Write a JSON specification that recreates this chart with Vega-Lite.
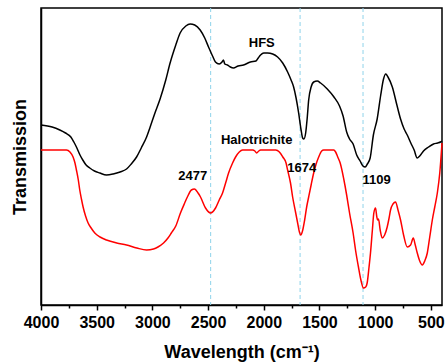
{
  "$schema": "https://vega.github.io/schema/vega-lite/v6.json",
  "width": 401,
  "height": 297,
  "autosize": "none",
  "padding": {"left": 41, "top": 8, "right": 5, "bottom": 59},
  "background": "white",
  "config": {
    "view": {"stroke": "black", "strokeWidth": 1.5},
    "font": "Liberation Sans",
    "axis": {"grid": false, "domainColor": "black", "tickColor": "black", "labelColor": "black", "titleColor": "black"}
  },
  "datasets": {
    "spectra": [
      {"wn": 4000, "t": 180, "s": "HFS"}, {"wn": 3900, "t": 178, "s": "HFS"}, {"wn": 3831, "t": 175, "s": "HFS"}, {"wn": 3780, "t": 172, "s": "HFS"}, {"wn": 3732, "t": 168, "s": "HFS"}, {"wn": 3705, "t": 163, "s": "HFS"}, {"wn": 3682, "t": 158, "s": "HFS"}, {"wn": 3650, "t": 150, "s": "HFS"}, {"wn": 3625, "t": 145, "s": "HFS"}, {"wn": 3595, "t": 140, "s": "HFS"}, {"wn": 3562, "t": 137, "s": "HFS"}, {"wn": 3520, "t": 134, "s": "HFS"}, {"wn": 3472, "t": 132, "s": "HFS"}, {"wn": 3412, "t": 130, "s": "HFS"}, {"wn": 3352, "t": 131, "s": "HFS"}, {"wn": 3290, "t": 133, "s": "HFS"}, {"wn": 3232, "t": 136, "s": "HFS"}, {"wn": 3190, "t": 141, "s": "HFS"}, {"wn": 3142, "t": 148, "s": "HFS"}, {"wn": 3100, "t": 157, "s": "HFS"}, {"wn": 3052, "t": 168, "s": "HFS"}, {"wn": 3020, "t": 178, "s": "HFS"}, {"wn": 2977, "t": 192, "s": "HFS"}, {"wn": 2931, "t": 206, "s": "HFS"}, {"wn": 2880, "t": 225, "s": "HFS"}, {"wn": 2841, "t": 242, "s": "HFS"}, {"wn": 2790, "t": 260, "s": "HFS"}, {"wn": 2751, "t": 272, "s": "HFS"}, {"wn": 2700, "t": 279, "s": "HFS"}, {"wn": 2661, "t": 281, "s": "HFS"}, {"wn": 2620, "t": 280, "s": "HFS"}, {"wn": 2571, "t": 275, "s": "HFS"}, {"wn": 2530, "t": 267, "s": "HFS"}, {"wn": 2496, "t": 258, "s": "HFS"}, {"wn": 2460, "t": 249, "s": "HFS"}, {"wn": 2434, "t": 243, "s": "HFS"}, {"wn": 2400, "t": 241, "s": "HFS"}, {"wn": 2375, "t": 243, "s": "HFS"}, {"wn": 2362, "t": 245, "s": "HFS"}, {"wn": 2350, "t": 241, "s": "HFS"}, {"wn": 2326, "t": 240, "s": "HFS"}, {"wn": 2300, "t": 238, "s": "HFS"}, {"wn": 2272, "t": 237, "s": "HFS"}, {"wn": 2230, "t": 239, "s": "HFS"}, {"wn": 2182, "t": 240, "s": "HFS"}, {"wn": 2120, "t": 243, "s": "HFS"}, {"wn": 2070, "t": 244, "s": "HFS"}, {"wn": 2050, "t": 247, "s": "HFS"}, {"wn": 2029, "t": 250, "s": "HFS"}, {"wn": 2000, "t": 252, "s": "HFS"}, {"wn": 1966, "t": 252, "s": "HFS"}, {"wn": 1920, "t": 251, "s": "HFS"}, {"wn": 1876, "t": 248, "s": "HFS"}, {"wn": 1830, "t": 242, "s": "HFS"}, {"wn": 1786, "t": 233, "s": "HFS"}, {"wn": 1755, "t": 225, "s": "HFS"}, {"wn": 1732, "t": 218, "s": "HFS"}, {"wn": 1710, "t": 207, "s": "HFS"}, {"wn": 1687, "t": 192, "s": "HFS"}, {"wn": 1665, "t": 175, "s": "HFS"}, {"wn": 1651, "t": 167, "s": "HFS"}, {"wn": 1640, "t": 166, "s": "HFS"}, {"wn": 1624, "t": 172, "s": "HFS"}, {"wn": 1610, "t": 187, "s": "HFS"}, {"wn": 1597, "t": 205, "s": "HFS"}, {"wn": 1575, "t": 218, "s": "HFS"}, {"wn": 1552, "t": 223, "s": "HFS"}, {"wn": 1520, "t": 224, "s": "HFS"}, {"wn": 1490, "t": 222, "s": "HFS"}, {"wn": 1430, "t": 216, "s": "HFS"}, {"wn": 1370, "t": 208, "s": "HFS"}, {"wn": 1320, "t": 199, "s": "HFS"}, {"wn": 1288, "t": 189, "s": "HFS"}, {"wn": 1256, "t": 173, "s": "HFS"}, {"wn": 1230, "t": 166, "s": "HFS"}, {"wn": 1198, "t": 161, "s": "HFS"}, {"wn": 1166, "t": 150, "s": "HFS"}, {"wn": 1135, "t": 144, "s": "HFS"}, {"wn": 1110, "t": 139, "s": "HFS"}, {"wn": 1090, "t": 138, "s": "HFS"}, {"wn": 1070, "t": 141, "s": "HFS"}, {"wn": 1045, "t": 147, "s": "HFS"}, {"wn": 1016, "t": 170, "s": "HFS"}, {"wn": 982, "t": 186, "s": "HFS"}, {"wn": 950, "t": 210, "s": "HFS"}, {"wn": 925, "t": 226, "s": "HFS"}, {"wn": 905, "t": 231, "s": "HFS"}, {"wn": 885, "t": 228, "s": "HFS"}, {"wn": 846, "t": 218, "s": "HFS"}, {"wn": 805, "t": 200, "s": "HFS"}, {"wn": 772, "t": 186, "s": "HFS"}, {"wn": 740, "t": 176, "s": "HFS"}, {"wn": 712, "t": 170, "s": "HFS"}, {"wn": 680, "t": 162, "s": "HFS"}, {"wn": 650, "t": 155, "s": "HFS"}, {"wn": 623, "t": 147, "s": "HFS"}, {"wn": 600, "t": 149, "s": "HFS"}, {"wn": 566, "t": 154, "s": "HFS"}, {"wn": 520, "t": 158, "s": "HFS"}, {"wn": 476, "t": 161, "s": "HFS"}, {"wn": 440, "t": 162, "s": "HFS"}, {"wn": 413, "t": 163, "s": "HFS"}, {"wn": 400, "t": 164, "s": "HFS"},
      {"wn": 4000, "t": 155, "s": "Halotrichite"}, {"wn": 3772, "t": 155, "s": "Halotrichite"}, {"wn": 3740, "t": 153, "s": "Halotrichite"}, {"wn": 3712, "t": 148, "s": "Halotrichite"}, {"wn": 3695, "t": 142, "s": "Halotrichite"}, {"wn": 3682, "t": 135, "s": "Halotrichite"}, {"wn": 3665, "t": 125, "s": "Halotrichite"}, {"wn": 3652, "t": 115, "s": "Halotrichite"}, {"wn": 3637, "t": 106, "s": "Halotrichite"}, {"wn": 3622, "t": 98, "s": "Halotrichite"}, {"wn": 3600, "t": 89, "s": "Halotrichite"}, {"wn": 3577, "t": 82, "s": "Halotrichite"}, {"wn": 3550, "t": 77, "s": "Halotrichite"}, {"wn": 3517, "t": 72, "s": "Halotrichite"}, {"wn": 3470, "t": 68, "s": "Halotrichite"}, {"wn": 3412, "t": 65, "s": "Halotrichite"}, {"wn": 3320, "t": 62, "s": "Halotrichite"}, {"wn": 3232, "t": 60, "s": "Halotrichite"}, {"wn": 3140, "t": 57, "s": "Halotrichite"}, {"wn": 3052, "t": 55, "s": "Halotrichite"}, {"wn": 2990, "t": 56, "s": "Halotrichite"}, {"wn": 2950, "t": 58, "s": "Halotrichite"}, {"wn": 2900, "t": 62, "s": "Halotrichite"}, {"wn": 2860, "t": 67, "s": "Halotrichite"}, {"wn": 2830, "t": 72, "s": "Halotrichite"}, {"wn": 2790, "t": 79, "s": "Halotrichite"}, {"wn": 2748, "t": 92, "s": "Halotrichite"}, {"wn": 2710, "t": 102, "s": "Halotrichite"}, {"wn": 2686, "t": 108, "s": "Halotrichite"}, {"wn": 2650, "t": 115, "s": "Halotrichite"}, {"wn": 2622, "t": 116, "s": "Halotrichite"}, {"wn": 2590, "t": 112, "s": "Halotrichite"}, {"wn": 2568, "t": 108, "s": "Halotrichite"}, {"wn": 2523, "t": 97, "s": "Halotrichite"}, {"wn": 2478, "t": 92, "s": "Halotrichite"}, {"wn": 2433, "t": 97, "s": "Halotrichite"}, {"wn": 2400, "t": 105, "s": "Halotrichite"}, {"wn": 2370, "t": 112, "s": "Halotrichite"}, {"wn": 2340, "t": 123, "s": "Halotrichite"}, {"wn": 2316, "t": 132, "s": "Halotrichite"}, {"wn": 2280, "t": 142, "s": "Halotrichite"}, {"wn": 2253, "t": 148, "s": "Halotrichite"}, {"wn": 2220, "t": 153, "s": "Halotrichite"}, {"wn": 2190, "t": 155, "s": "Halotrichite"}, {"wn": 2100, "t": 155, "s": "Halotrichite"}, {"wn": 2080, "t": 154, "s": "Halotrichite"}, {"wn": 2064, "t": 152, "s": "Halotrichite"}, {"wn": 2045, "t": 154, "s": "Halotrichite"}, {"wn": 2029, "t": 155, "s": "Halotrichite"}, {"wn": 1893, "t": 155, "s": "Halotrichite"}, {"wn": 1860, "t": 153, "s": "Halotrichite"}, {"wn": 1829, "t": 148, "s": "Halotrichite"}, {"wn": 1800, "t": 142, "s": "Halotrichite"}, {"wn": 1786, "t": 135, "s": "Halotrichite"}, {"wn": 1760, "t": 122, "s": "Halotrichite"}, {"wn": 1741, "t": 108, "s": "Halotrichite"}, {"wn": 1715, "t": 93, "s": "Halotrichite"}, {"wn": 1696, "t": 82, "s": "Halotrichite"}, {"wn": 1680, "t": 73, "s": "Halotrichite"}, {"wn": 1669, "t": 70, "s": "Halotrichite"}, {"wn": 1650, "t": 75, "s": "Halotrichite"}, {"wn": 1633, "t": 85, "s": "Halotrichite"}, {"wn": 1615, "t": 98, "s": "Halotrichite"}, {"wn": 1597, "t": 108, "s": "Halotrichite"}, {"wn": 1575, "t": 120, "s": "Halotrichite"}, {"wn": 1552, "t": 132, "s": "Halotrichite"}, {"wn": 1530, "t": 141, "s": "Halotrichite"}, {"wn": 1507, "t": 148, "s": "Halotrichite"}, {"wn": 1480, "t": 154, "s": "Halotrichite"}, {"wn": 1462, "t": 155, "s": "Halotrichite"}, {"wn": 1372, "t": 155, "s": "Halotrichite"}, {"wn": 1355, "t": 153, "s": "Halotrichite"}, {"wn": 1336, "t": 148, "s": "Halotrichite"}, {"wn": 1314, "t": 142, "s": "Halotrichite"}, {"wn": 1282, "t": 126, "s": "Halotrichite"}, {"wn": 1256, "t": 110, "s": "Halotrichite"}, {"wn": 1230, "t": 92, "s": "Halotrichite"}, {"wn": 1198, "t": 72, "s": "Halotrichite"}, {"wn": 1175, "t": 54, "s": "Halotrichite"}, {"wn": 1150, "t": 38, "s": "Halotrichite"}, {"wn": 1130, "t": 26, "s": "Halotrichite"}, {"wn": 1105, "t": 17, "s": "Halotrichite"}, {"wn": 1085, "t": 18, "s": "Halotrichite"}, {"wn": 1072, "t": 22, "s": "Halotrichite"}, {"wn": 1055, "t": 38, "s": "Halotrichite"}, {"wn": 1042, "t": 52, "s": "Halotrichite"}, {"wn": 1025, "t": 75, "s": "Halotrichite"}, {"wn": 1012, "t": 92, "s": "Halotrichite"}, {"wn": 997, "t": 97, "s": "Halotrichite"}, {"wn": 985, "t": 88, "s": "Halotrichite"}, {"wn": 978, "t": 85, "s": "Halotrichite"}, {"wn": 970, "t": 86, "s": "Halotrichite"}, {"wn": 955, "t": 75, "s": "Halotrichite"}, {"wn": 937, "t": 67, "s": "Halotrichite"}, {"wn": 915, "t": 70, "s": "Halotrichite"}, {"wn": 892, "t": 78, "s": "Halotrichite"}, {"wn": 875, "t": 87, "s": "Halotrichite"}, {"wn": 862, "t": 95, "s": "Halotrichite"}, {"wn": 840, "t": 101, "s": "Halotrichite"}, {"wn": 817, "t": 103, "s": "Halotrichite"}, {"wn": 795, "t": 95, "s": "Halotrichite"}, {"wn": 772, "t": 85, "s": "Halotrichite"}, {"wn": 745, "t": 70, "s": "Halotrichite"}, {"wn": 712, "t": 58, "s": "Halotrichite"}, {"wn": 682, "t": 60, "s": "Halotrichite"}, {"wn": 658, "t": 67, "s": "Halotrichite"}, {"wn": 640, "t": 60, "s": "Halotrichite"}, {"wn": 622, "t": 52, "s": "Halotrichite"}, {"wn": 600, "t": 44, "s": "Halotrichite"}, {"wn": 577, "t": 40, "s": "Halotrichite"}, {"wn": 555, "t": 44, "s": "Halotrichite"}, {"wn": 532, "t": 52, "s": "Halotrichite"}, {"wn": 510, "t": 68, "s": "Halotrichite"}, {"wn": 487, "t": 85, "s": "Halotrichite"}, {"wn": 465, "t": 98, "s": "Halotrichite"}, {"wn": 442, "t": 112, "s": "Halotrichite"}, {"wn": 420, "t": 132, "s": "Halotrichite"}, {"wn": 400, "t": 162, "s": "Halotrichite"}
    ],
    "peaks": [{"wn": 2477}, {"wn": 1674}, {"wn": 1109}],
    "labels": [
      {"wn": 2018, "t": 262, "label": "HFS"},
      {"wn": 2064, "t": 165, "label": "Halotrichite"},
      {"wn": 2637, "t": 129, "label": "2477"},
      {"wn": 1660, "t": 137, "label": "1674"},
      {"wn": 987, "t": 125, "label": "1109"}
    ]
  },
  "encoding": {
    "x": {
      "field": "wn",
      "type": "quantitative",
      "scale": {"domain": [400, 4000], "reverse": true, "nice": false, "zero": false},
      "axis": {
        "title": "Wavelength (cm⁻¹)",
        "values": [4000, 3750, 3500, 3250, 3000, 2750, 2500, 2250, 2000, 1750, 1500, 1250, 1000, 750, 500],
        "format": "d",
        "labelExpr": "datum.value % 500 === 0 ? datum.label : ''",
        "tickSize": {"condition": {"test": "datum.value % 500 === 0", "value": 5}, "value": 3},
        "tickWidth": 1.5,
        "domainWidth": 1.5,
        "labelFontSize": 16,
        "labelFontWeight": "bold",
        "labelPadding": 4,
        "labelOverlap": false,
        "labelFlush": false,
        "titleFontSize": 18,
        "titleFontWeight": "bold",
        "titlePadding": 13
      }
    }
  },
  "layer": [
    {
      "data": {"name": "peaks"},
      "mark": {"type": "rule", "color": "#8fd3ea", "strokeDash": [4, 3], "strokeWidth": 1}
    },
    {
      "data": {"name": "spectra"},
      "mark": {"type": "line", "strokeWidth": 1.5, "interpolate": "monotone"},
      "encoding": {
        "y": {
          "field": "t",
          "type": "quantitative",
          "scale": {"domain": [0, 297], "nice": false, "zero": false},
          "axis": {"title": "Transmission", "labels": false, "ticks": false, "domainWidth": 1.5, "titleFontSize": 18, "titleFontWeight": "bold", "titlePadding": 12}
        },
        "color": {
          "field": "s",
          "type": "nominal",
          "scale": {"domain": ["HFS", "Halotrichite"], "range": ["black", "#ff0000"]},
          "legend": null
        }
      }
    },
    {
      "data": {"name": "labels"},
      "mark": {"type": "text", "fontSize": 13, "fontWeight": "bold", "color": "black", "align": "center", "baseline": "middle"},
      "encoding": {
        "y": {
          "field": "t",
          "type": "quantitative",
          "scale": {"domain": [0, 297], "nice": false, "zero": false},
          "axis": {"title": "Transmission", "labels": false, "ticks": false, "domainWidth": 1.5, "titleFontSize": 18, "titleFontWeight": "bold", "titlePadding": 12}
        },
        "text": {"field": "label"}
      }
    }
  ]
}
